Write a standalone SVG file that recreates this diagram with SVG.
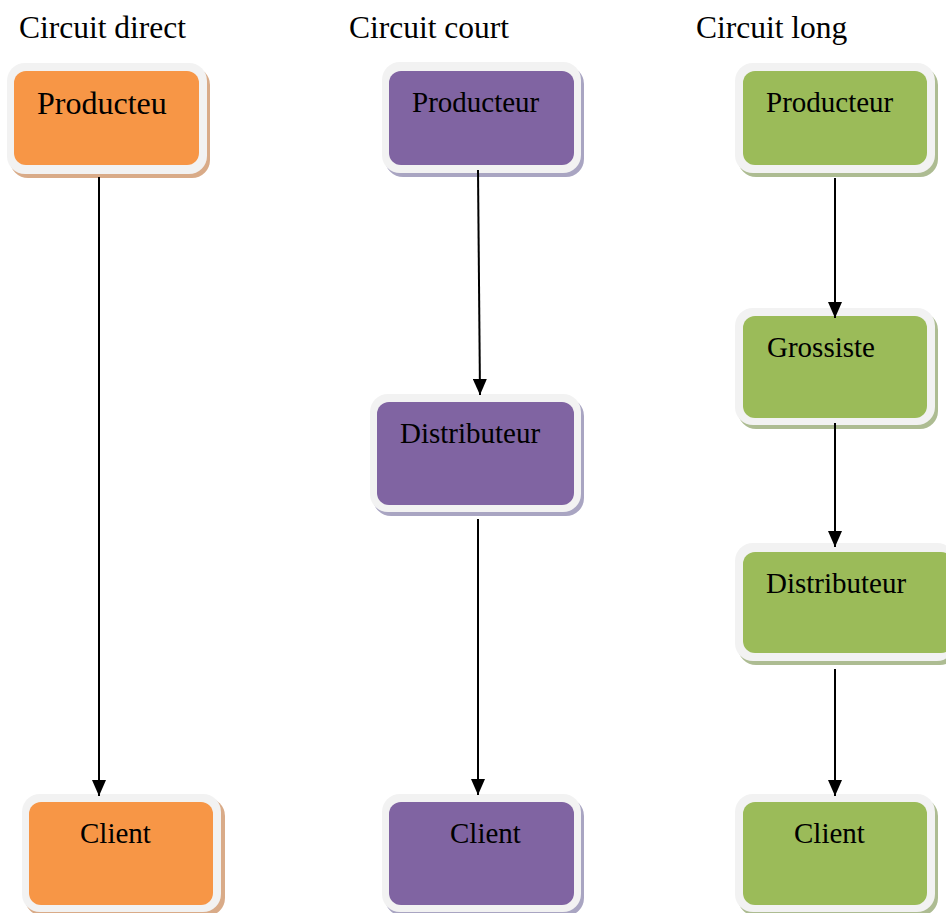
<svg xmlns="http://www.w3.org/2000/svg" width="946" height="913" viewBox="0 0 946 913">
  <style>
    text { font-family: "Liberation Serif", "Times New Roman", serif; fill: #000; }
    .head { font-size: 31.5px; }
    .lbl { font-size: 29px; }
    .frame { fill: #f2f2f2; }
    .o { fill: #f79646; }
    .p { fill: #8064a2; }
    .g { fill: #9bbb59; }
    .so { fill: #d9ab88; }
    .sp { fill: #a9a5c2; }
    .sg { fill: #adbc92; }
    .conn { stroke: #000; stroke-width: 2; fill: none; marker-end: url(#arrow); }
  </style>
  <defs>
    <marker id="arrow" viewBox="0 0 16 14" refX="16" refY="7" markerWidth="16" markerHeight="14" markerUnits="userSpaceOnUse" orient="auto">
      <path d="M0,0 L16,7 L0,14 Z" fill="#000"/>
    </marker>
  </defs>
  <rect width="946" height="913" fill="#fff"/>

  <!-- column headings -->
  <text class="head" x="19" y="38">Circuit direct</text>
  <text class="head" x="349" y="38">Circuit court</text>
  <text class="head" x="696" y="38">Circuit long</text>

  <!-- direct channel -->
  <g id="direct-producteur">
    <rect class="so" x="10" y="67" width="200" height="111" rx="18"/>
    <rect class="frame" x="7" y="63" width="200" height="111" rx="18"/>
    <rect class="o" x="14" y="71" width="185" height="94" rx="12"/>
    <text style="font-size:32px" x="37" y="114">Producteu</text>
  </g>
  <g id="direct-client">
    <rect class="so" x="25" y="798" width="200" height="118" rx="18"/>
    <rect class="frame" x="22" y="794" width="199" height="118" rx="18"/>
    <rect class="o" x="29" y="802" width="184" height="103" rx="12"/>
    <text class="lbl" x="80" y="843">Client</text>
  </g>

  <!-- short channel -->
  <g id="court-producteur">
    <rect class="sp" x="385" y="66" width="199" height="111" rx="18"/>
    <rect class="frame" x="382" y="62" width="199" height="111" rx="18"/>
    <rect class="p" x="389" y="71" width="185" height="94" rx="12"/>
    <text class="lbl" x="412" y="112">Producteur</text>
  </g>
  <g id="court-distributeur">
    <rect class="sp" x="373" y="398" width="211" height="118" rx="18"/>
    <rect class="frame" x="370" y="394" width="211" height="118" rx="18"/>
    <rect class="p" x="377" y="402" width="197" height="103" rx="12"/>
    <text class="lbl" x="400" y="443">Distributeur</text>
  </g>
  <g id="court-client">
    <rect class="sp" x="385" y="798" width="199" height="118" rx="18"/>
    <rect class="frame" x="382" y="794" width="199" height="118" rx="18"/>
    <rect class="p" x="389" y="802" width="185" height="103" rx="12"/>
    <text class="lbl" x="450" y="843">Client</text>
  </g>

  <!-- long channel -->
  <g id="long-producteur">
    <rect class="sg" x="738" y="67" width="200" height="110" rx="18"/>
    <rect class="frame" x="735" y="63" width="200" height="110" rx="18"/>
    <rect class="g" x="743" y="71" width="184" height="94" rx="12"/>
    <text class="lbl" x="766" y="112">Producteur</text>
  </g>
  <g id="long-grossiste">
    <rect class="sg" x="738" y="312" width="200" height="117" rx="18"/>
    <rect class="frame" x="735" y="308" width="200" height="117" rx="18"/>
    <rect class="g" x="743" y="316" width="184" height="102" rx="12"/>
    <text class="lbl" x="767" y="357">Grossiste</text>
  </g>
  <g id="long-distributeur">
    <rect class="sg" x="738" y="547" width="220" height="118" rx="18"/>
    <rect class="frame" x="735" y="543" width="220" height="118" rx="18"/>
    <rect class="g" x="743" y="552" width="210" height="101" rx="12"/>
    <text class="lbl" x="766" y="593">Distributeur</text>
  </g>
  <g id="long-client">
    <rect class="sg" x="738" y="798" width="200" height="118" rx="18"/>
    <rect class="frame" x="735" y="794" width="200" height="118" rx="18"/>
    <rect class="g" x="743" y="802" width="184" height="103" rx="12"/>
    <text class="lbl" x="794" y="843">Client</text>
  </g>

  <!-- connectors, drawn over the box frames -->
  <g id="connectors">
    <line class="conn" x1="99" y1="177" x2="99" y2="796"/>
    <line class="conn" x1="478" y1="170" x2="480" y2="395"/>
    <line class="conn" x1="478" y1="519" x2="478" y2="795"/>
    <line class="conn" x1="835" y1="178" x2="835" y2="318"/>
    <line class="conn" x1="835" y1="423" x2="835" y2="547"/>
    <line class="conn" x1="835" y1="669" x2="835" y2="796"/>
  </g>
</svg>
